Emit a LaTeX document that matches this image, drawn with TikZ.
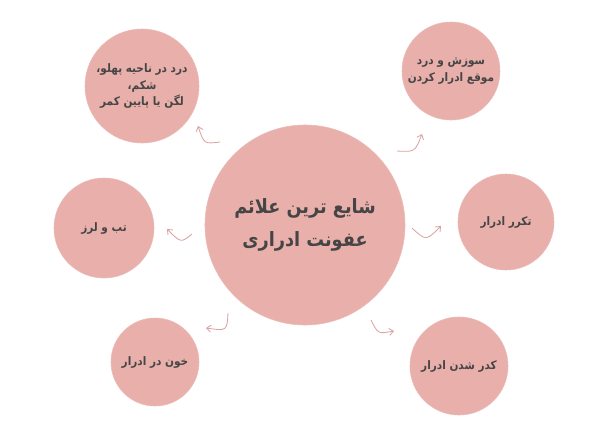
\documentclass[tikz,border=0pt]{standalone}
\usepackage{fontspec}
\usetikzlibrary{arrows.meta}
\TeXXeTstate=1
\newfontfamily\arabicfont[Script=Arabic]{DejaVu Sans Condensed}
\definecolor{blobpink}{HTML}{E8AFAB}
\definecolor{arrowpink}{HTML}{D9A3A3}
\definecolor{inkgray}{HTML}{454545}
\def\fa#1{\beginR #1\endR}
\tikzset{
	blob/.style={circle, fill=blobpink, draw=blobpink!85!white, line width=0.4pt, inner sep=0pt,
		text=inkgray, align=center, font=\arabicfont\bfseries\fontsize{8.3}{11.5}\selectfont},
	bigblob/.style={blob, font=\arabicfont\bfseries\fontsize{14}{23}\selectfont},
	curlyarrow/.style={draw=arrowpink, line width=0.6pt, -{Straight Barb[length=3pt,width=5pt]}}
}

\begin{document}
\begin{tikzpicture}[x=0.025cm, y=-0.025cm]
		%%%%% START %%%%%
		\useasboundingbox (0, 0) rectangle (600, 436);
		
		% centre
		\node[bigblob, minimum size=5cm] (centre) at (305, 225) {\fa{شایع ترین علائم}\\\fa{عفونت ادراری}};
		
		% symptoms
		\node[blob, minimum size=2.85cm] (pain) at (142, 86) {\fa{درد در ناحیه پهلو،}\\\fa{شکم،}\\\fa{لگن یا پایین کمر}};
		\node[blob, minimum size=2.45cm] (burning) at (451, 71) {\fa{سوزش و درد}\\\fa{موقع ادرار کردن}};
		\node[blob, minimum size=2.5cm] (fever) at (104, 228) {\fa{تب و لرز}};
		\node[blob, minimum size=2.4cm] (frequency) at (506, 222) {\fa{تکرر ادرار}};
		\node[blob, minimum size=2.2cm] (blood) at (155, 362) {\fa{خون در ادرار}};
		\node[blob, minimum size=2.45cm] (cloudy) at (459, 366) {\fa{کدر شدن ادرار}};
		
		% little arrows
		\coordinate (painA) at (220, 142);  \coordinate (painB) at (198, 126);
		\coordinate (burnA) at (397, 151);  \coordinate (burnB) at (422, 134);
		\coordinate (feverA) at (192, 234); \coordinate (feverB) at (167, 229);
		\coordinate (freqA) at (412, 228);  \coordinate (freqB) at (441, 226);
		\coordinate (bloodA) at (228, 313); \coordinate (bloodB) at (206, 328);
		\coordinate (cloudA) at (371, 320); \coordinate (cloudB) at (394, 331);
		
		\draw[curlyarrow] (painA) .. controls (204, 144) .. (painB);
		\draw[curlyarrow] (burnA) .. controls (415, 152) .. (burnB);
		\draw[curlyarrow] (feverA) .. controls (181, 243) .. (feverB);
		\draw[curlyarrow] (freqA) .. controls (426, 241) .. (freqB);
		\draw[curlyarrow] (bloodA) .. controls (227, 331) .. (bloodB);
		\draw[curlyarrow] (cloudA) .. controls (378, 334) .. (cloudB);
		
		%%%%% END %%%%%
\end{tikzpicture}
\end{document}
